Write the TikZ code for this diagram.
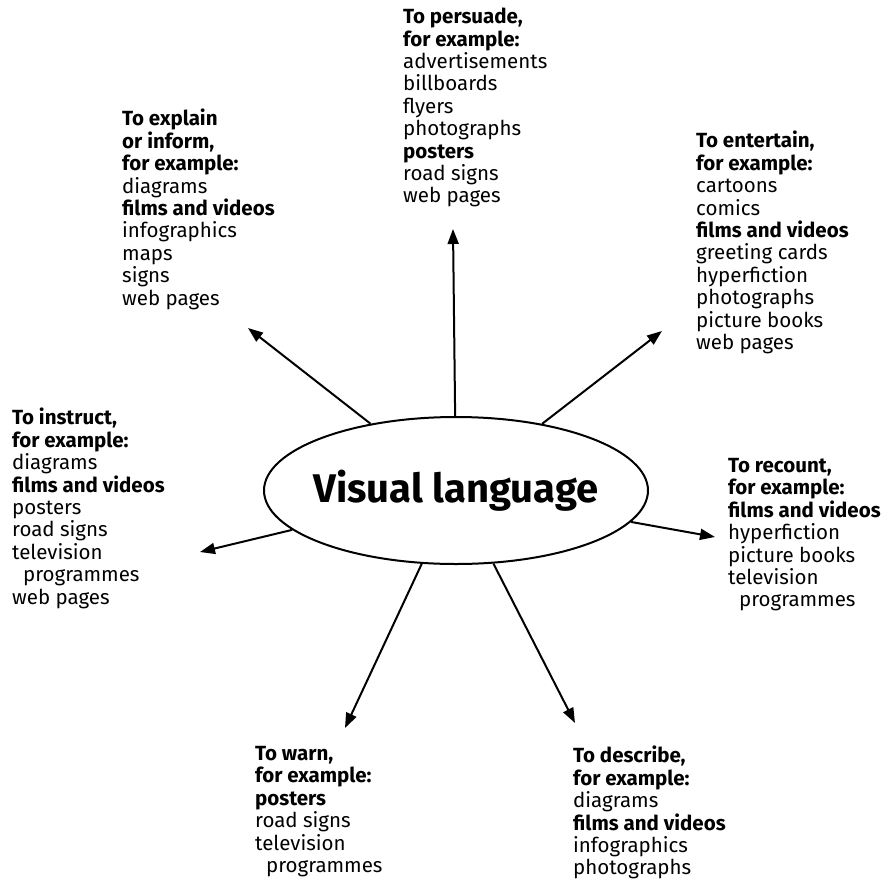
\documentclass[tikz,border=0pt]{standalone}
\usepackage{fontspec}
\setmainfont{Fira Sans}
\usetikzlibrary{shapes.geometric,arrows.meta}
\tikzset{
  blk/.style={anchor=north west, inner sep=0pt, align=left, font=\fontsize{20.5}{22.4}\selectfont},
  conn/.style={line width=2pt, -{Triangle[length=15pt,width=11pt]}},
}
\newcommand{\hd}[1]{\textbf{#1}}
\newcommand{\ind}{\hspace*{11pt}}
\begin{document}
\begin{tikzpicture}[x=1pt,y=-1pt]
\useasboundingbox (0,0) rectangle (887,879);
\node[ellipse, draw, line width=2pt, minimum width=384pt, minimum height=147pt, inner sep=0pt,
  font=\fontsize{40}{46}\selectfont\bfseries] (V) at (456,490.5) {\makebox[0pt]{Visual language}};

\node[blk] (persuade) at (403,8) {\hd{To persuade,}\\\hd{for example:}\\advertisements\\billboards\\flyers\\photographs\\\hd{posters}\\road signs\\web pages};
\node[blk] (explain) at (122,109) {\hd{To explain}\\\hd{or inform,}\\\hd{for example:}\\diagrams\\\hd{films and videos}\\infographics\\maps\\signs\\web pages};
\node[blk] (entertain) at (696,131) {\hd{To entertain,}\\\hd{for example:}\\cartoons\\comics\\\hd{films and videos}\\greeting cards\\hyperfiction\\photographs\\picture books\\web pages};
\node[blk] (instruct) at (12,408) {\hd{To instruct,}\\\hd{for example:}\\diagrams\\\hd{films and videos}\\posters\\road signs\\television\\\ind programmes\\web pages};
\node[blk] (recount) at (728,458) {\hd{To recount,}\\\hd{for example:}\\\hd{films and videos}\\hyperfiction\\picture books\\television\\\ind programmes};
\node[blk] (warn) at (255,746) {\hd{To warn,}\\\hd{for example:}\\\hd{posters}\\road signs\\television\\\ind programmes};
\node[blk] (describe) at (573,746) {\hd{To describe,}\\\hd{for example:}\\diagrams\\\hd{films and videos}\\infographics\\photographs};

\coordinate (tpersuade) at (453,229);
\coordinate (texplain) at (248,328);
\coordinate (tentertain) at (662,331);
\coordinate (tinstruct) at (200,552);
\coordinate (trecount) at (715,537);
\coordinate (twarn) at (345,728);
\coordinate (tdescribe) at (575,723);

\foreach \t in {persuade,explain,entertain,instruct,recount,warn,describe}
  \draw[conn] (V) -- (t\t);
\end{tikzpicture}
\end{document}
